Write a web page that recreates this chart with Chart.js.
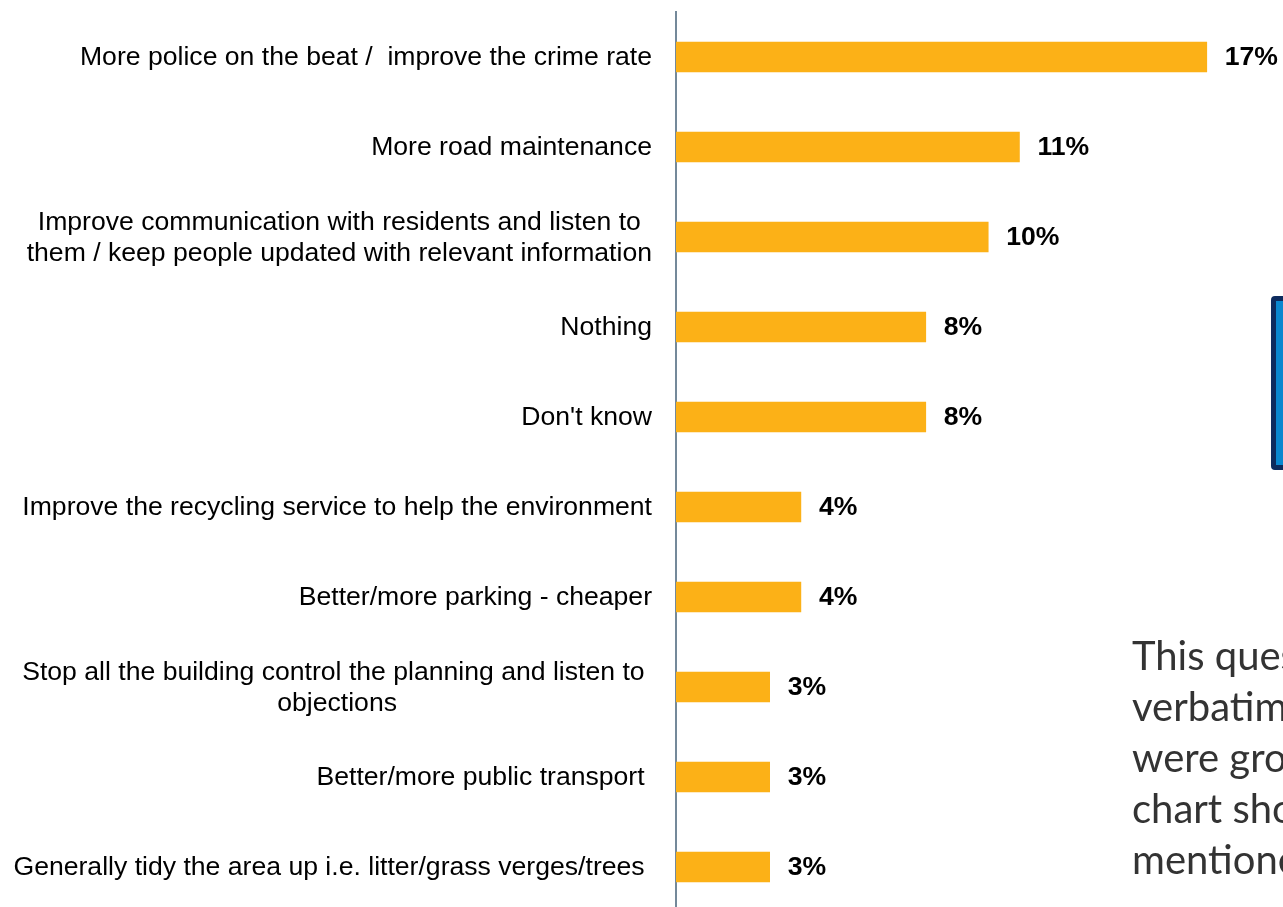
<!DOCTYPE html>
<html>
<head>
<meta charset="utf-8">
<script src="https://cdn.jsdelivr.net/npm/chart.js@4"></script>
<style>
    html, body {
        margin: 0;
        padding: 0;
        width: 1283px;
        height: 907px;
        overflow: hidden;
        background: #ffffff;
    }
    #chartWrap {
        position: absolute;
        left: 0;
        top: 0;
        width: 1283px;
        height: 920px;
    }
    .side-box {
        position: absolute;
        left: 1271px;
        top: 296px;
        width: 40px;
        height: 164px;
        border: 5px solid #0d2b5e;
        border-radius: 4px;
        background: #0a87cf;
    }
    .side-note {
        position: absolute;
        left: 1132px;
        top: 630px;
        font-family: Lato, "Open Sans", sans-serif;
        font-size: 40px;
        line-height: 51px;
        color: #333333;
        white-space: nowrap;
    }
</style>
</head>
<body>
<div id="chartWrap"><canvas id="themeChart" width="1283" height="920"></canvas></div>
<div class="side-box"></div>
<div class="side-note">
    This question was asked as an open<br>
    verbatim response. Answers<br>
    were grouped into themes. The<br>
    chart shows the most frequently<br>
    mentioned themes.
</div>

<script>
// Themes and share of respondents (%)
const categories = [
    'More police on the beat /  improve the crime rate',
    'More road maintenance',
    ['Improve communication with residents and listen to', 'them / keep people updated with relevant information'],
    'Nothing',
    "Don't know",
    'Improve the recycling service to help the environment',
    'Better/more parking - cheaper',
    ['Stop all the building control the planning and listen to ', 'objections'],
    'Better/more public transport ',
    'Generally tidy the area up i.e. litter/grass verges/trees '
];
const values = [17, 11, 10, 8, 8, 4, 4, 3, 3, 3];

const BAR_COLOR = '#fcb117';
const LABEL_RIGHT = 652;
const LINE_HEIGHT = 31;
const FONT_FAMILY = '"Liberation Sans", Arial, sans-serif';

// Category text on the left (multi-line blocks centred) and value labels after each bar
const rowLabels = {
    id: 'rowLabels',
    afterDraw(chart) {
        const ctx = chart.ctx;
        const yScale = chart.scales.y;
        const meta = chart.getDatasetMeta(0);

        ctx.save();
        ctx.fillStyle = '#000000';
        ctx.textBaseline = 'middle';
        ctx.font = '26.6px ' + FONT_FAMILY;
        ctx.textAlign = 'center';
        categories.forEach((label, i) => {
            const lines = Array.isArray(label) ? label : [label];
            const y = yScale.getPixelForValue(i) + 1;
            const widest = Math.max(...lines.map(l => ctx.measureText(l).width));
            const cx = LABEL_RIGHT - widest / 2;
            lines.forEach((line, j) => {
                ctx.fillText(line, cx, y + (j - (lines.length - 1) / 2) * LINE_HEIGHT);
            });
        });

        ctx.font = 'bold 26.6px ' + FONT_FAMILY;
        ctx.textAlign = 'left';
        meta.data.forEach((bar, i) => {
            ctx.fillText(values[i] + '%', bar.x + 18, bar.y + 1);
        });
        ctx.restore();
    }
};

const ctx = document.getElementById('themeChart').getContext('2d');
const themeChart = new Chart(ctx, {
    type: 'bar',
    data: {
        labels: categories,
        datasets: [{
            data: values,
            backgroundColor: BAR_COLOR,
            borderWidth: 0,
            barThickness: 30
        }]
    },
    options: {
        indexAxis: 'y',
        responsive: false,
        animation: false,
        layout: {
            padding: { top: 12, bottom: 8, left: 0, right: 45 }
        },
        plugins: {
            legend: { display: false },
            tooltip: { enabled: false }
        },
        scales: {
            x: {
                display: false,
                min: 0,
                max: 18
            },
            y: {
                z: 1,
                ticks: { display: false },
                grid: { display: false, drawTicks: false },
                border: { display: true, color: '#74899a', width: 2 },
                afterFit(scale) {
                    scale.width = 676;
                }
            }
        }
    },
    plugins: [rowLabels]
});
</script>
</body>
</html>
